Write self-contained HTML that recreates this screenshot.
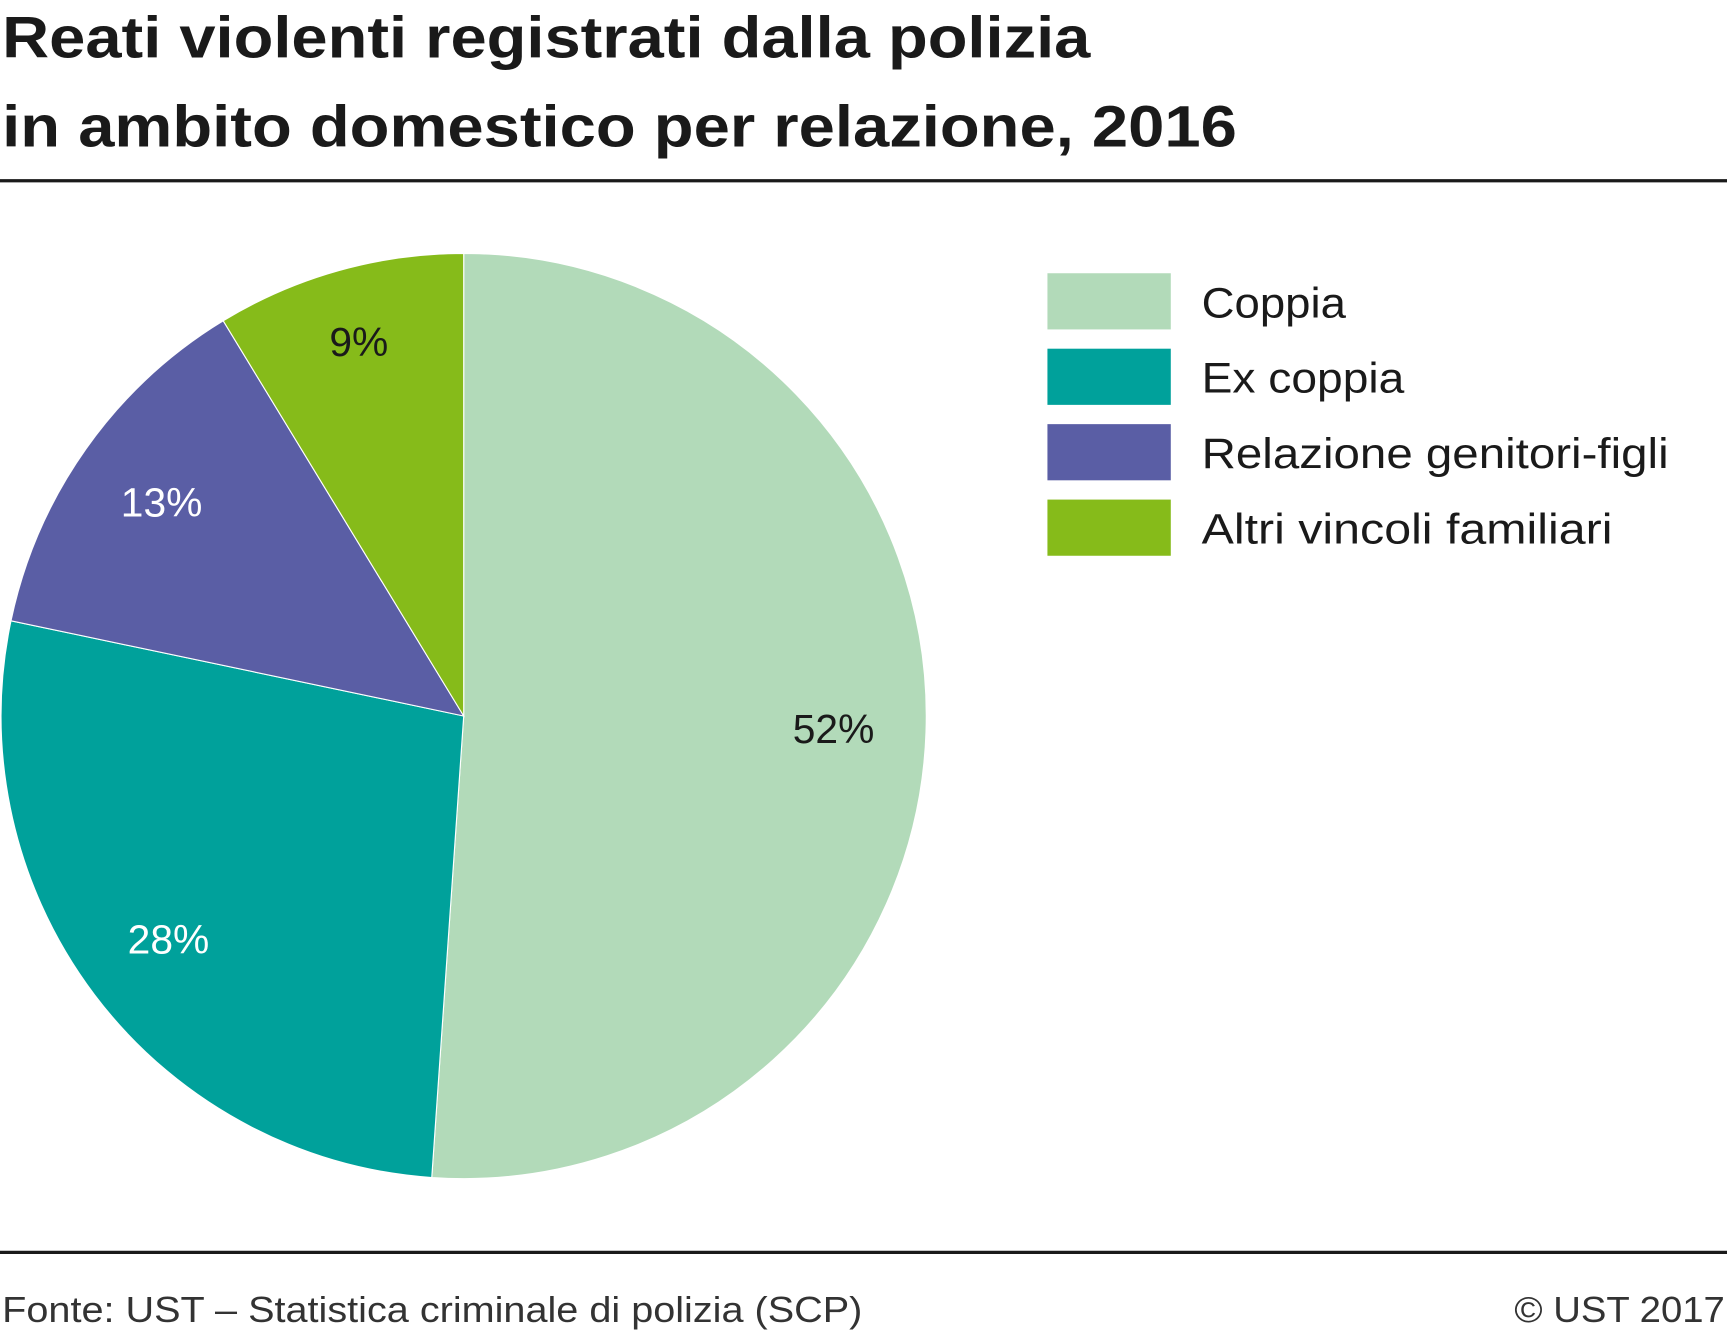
<!DOCTYPE html>
<html><head><meta charset="utf-8"><style>
html,body{margin:0;padding:0;background:#fff}
svg{display:block;font-family:"Liberation Sans",sans-serif}
</style></head><body>
<svg width="1727" height="1334" viewBox="0 0 1568 1211">
<text x="2" y="52" font-size="53" font-weight="bold" fill="#1a1a1a" textLength="988" lengthAdjust="spacingAndGlyphs">Reati violenti registrati dalla polizia</text>
<text x="2" y="133" font-size="53" font-weight="bold" fill="#1a1a1a" textLength="1121" lengthAdjust="spacingAndGlyphs">in ambito domestico per relazione, 2016</text>
<line x1="0" y1="164" x2="1568" y2="164" stroke="#1a1a1a" stroke-width="3"/>
<g id="slices"></g>
<g id="legend"></g>
<line x1="0" y1="1137" x2="1568" y2="1137" stroke="#1a1a1a" stroke-width="3"/>
<text x="2" y="1200" font-size="33" fill="#333" textLength="781" lengthAdjust="spacingAndGlyphs">Fonte: UST – Statistica criminale di polizia (SCP)</text>
<text x="1375" y="1200" font-size="33" fill="#333" textLength="191" lengthAdjust="spacingAndGlyphs">© UST 2017</text>
</svg>
<script>
const categories = ["Coppia","Ex coppia","Relazione genitori-figli","Altri vincoli familiari"];
const values = [51.1, 27.2, 13.0, 8.7];
const valueLabels = ["52%","28%","13%","9%"];
const colors = ["#b2dab9","#00a19b","#5a5ea5","#86bb1a"];
const labelColors = ["#1a1a1a","#ffffff","#ffffff","#1a1a1a"];
const NS="http://www.w3.org/2000/svg";
const cx=421, cy=650, R=420;
const total = values.reduce((a,b)=>a+b,0);
const g=document.getElementById('slices');
function pt(a,r){return [cx+r*Math.sin(a), cy-r*Math.cos(a)];}
let acc=0;
values.forEach((v,i)=>{
  const a0=acc/total*2*Math.PI; acc+=v; const a1=acc/total*2*Math.PI;
  const p0=pt(a0,R), p1=pt(a1,R);
  const path=document.createElementNS(NS,'path');
  path.setAttribute('d',`M${cx},${cy}L${p0[0]},${p0[1]}A${R},${R} 0 ${a1-a0>Math.PI?1:0} 1 ${p1[0]},${p1[1]}Z`);
  path.setAttribute('fill',colors[i]);
  path.setAttribute('stroke','#fff');path.setAttribute('stroke-width','1');
  
  
  g.appendChild(path);
  const m=(a0+a1)/2, lp=pt(m,R*(v<10?0.84:0.8));
  const t=document.createElementNS(NS,'text');
  t.setAttribute('x',lp[0]);t.setAttribute('y',lp[1]+13);
  t.setAttribute('text-anchor','middle');t.setAttribute('font-size','37');
  t.setAttribute('fill',labelColors[i]);
  t.textContent=valueLabels[i];
  
  
  g.appendChild(t);
});
const lg=document.getElementById('legend');
const legendWidths=[131,184,424,373];
categories.forEach((c,i)=>{
  const y=248+i*68.5;
  const r=document.createElementNS(NS,'rect');
  r.setAttribute('x',951);r.setAttribute('y',y);r.setAttribute('width',112);r.setAttribute('height',51);
  r.setAttribute('fill',colors[i]);
  
  
  lg.appendChild(r);
  const t=document.createElementNS(NS,'text');
  t.setAttribute('x',1091);t.setAttribute('y',y+40);t.setAttribute('font-size','39');t.setAttribute('fill','#1a1a1a');
  t.setAttribute('textLength',legendWidths[i]);t.setAttribute('lengthAdjust','spacingAndGlyphs');
  t.textContent=c;
  
  
  lg.appendChild(t);
});
</script>
</body></html>
